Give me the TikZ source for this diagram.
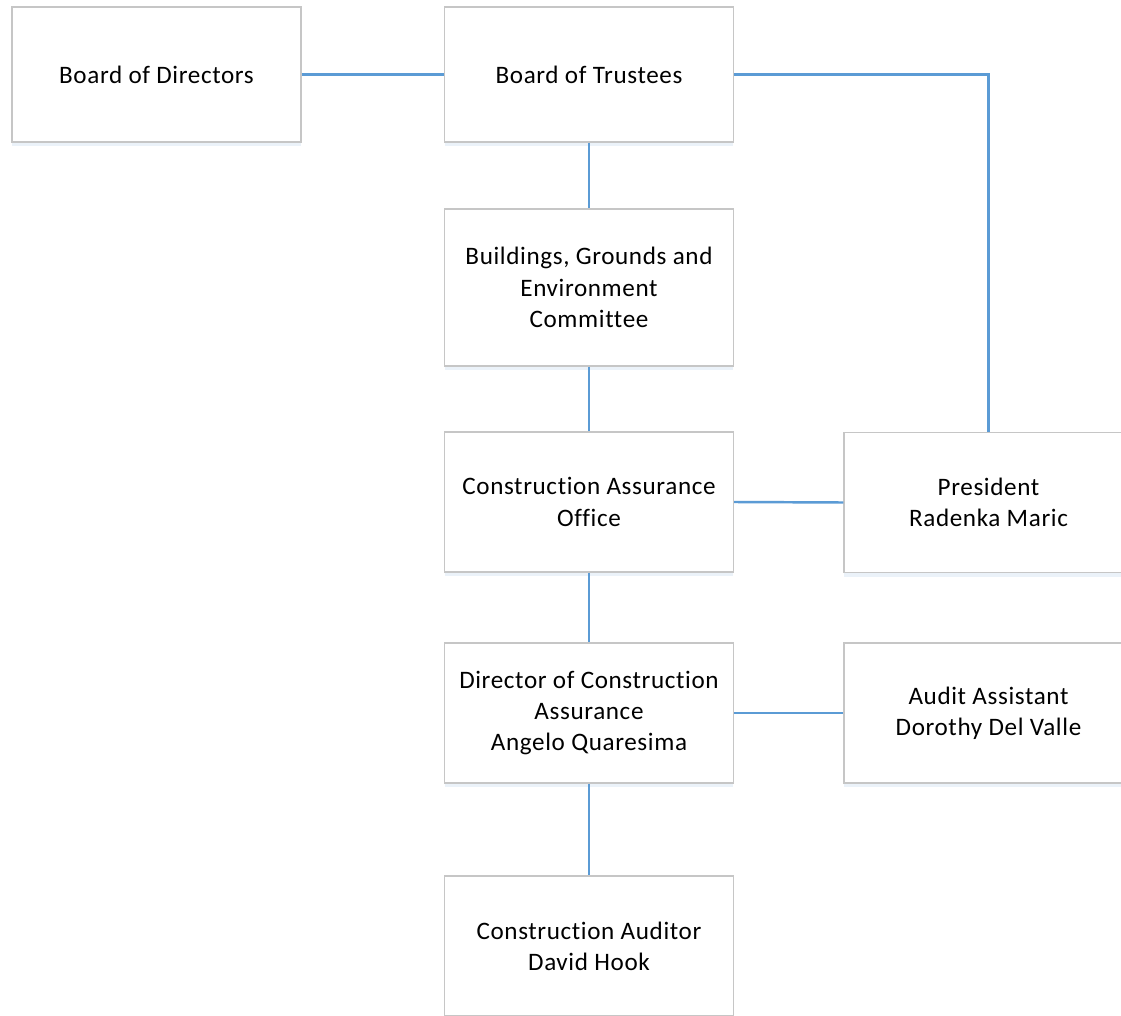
\documentclass[tikz,border=0pt]{standalone}
\usepackage{fontspec}
\setmainfont{Carlito}[LetterSpace=2.5, Ligatures=NoCommon]
\usetikzlibrary{shadows}
\definecolor{linkblue}{HTML}{5B9BD5}
\definecolor{boxgray}{HTML}{C6C6C6}
\tikzset{
  unit/.style={draw=boxgray, line width=0.8pt, fill=white, align=center,
    minimum width=5.78cm, inner sep=2pt,
    font=\fontsize{14.3}{17.8}\selectfont,
    drop shadow={shadow xshift=0pt, shadow yshift=-2.5pt, opacity=0.12, fill=linkblue}},
  link/.style={draw=linkblue, line width=1.4pt}
}

\begin{document}
\begin{tikzpicture}[x=0.02cm, y=-0.02cm]
  \clip (0,0) rectangle (1121,1016);
  \fill[white] (0,0) rectangle (1121,1016);

  % top row
  \node[unit, minimum height=2.7cm] (dir) at (156.5,74.5) {Board of Directors};
  \node[unit, minimum height=2.7cm] (trust) at (589,74.5) {Board of Trustees};

  % main column
  \node[unit, minimum height=3.14cm] (bge) at (589,287.5) {Buildings, Grounds and\\Environment\\Committee};
  \node[unit, minimum height=2.8cm] (cao) at (589,502) {Construction Assurance\\Office};
  \node[unit, minimum height=2.8cm] (dca) at (589,713) {Director of Construction\\Assurance\\Angelo Quaresima};
  \node[unit, minimum height=2.8cm] (auditor) at (589,946) {Construction Auditor\\David Hook};

  % right column
  \node[unit, minimum height=2.8cm] (pres) at (988.5,502.5) {President\\Radenka Maric};
  \node[unit, minimum height=2.8cm] (assist) at (988.5,713) {Audit Assistant\\Dorothy Del Valle};

  % connectors
  \draw[link] (dir.east) -- (trust.west);
  \draw[link] (trust.east) -| (pres.north);
  \draw[link] (trust.south) -- (bge.north);
  \draw[link] (bge.south) -- (cao.north);
  \draw[link] (cao.east) -- (pres.west);
  \draw[link] (cao.south) -- (dca.north);
  \draw[link] (dca.east) -- (assist.west);
  \draw[link] (dca.south) -- (auditor.north);
\end{tikzpicture}
\end{document}
